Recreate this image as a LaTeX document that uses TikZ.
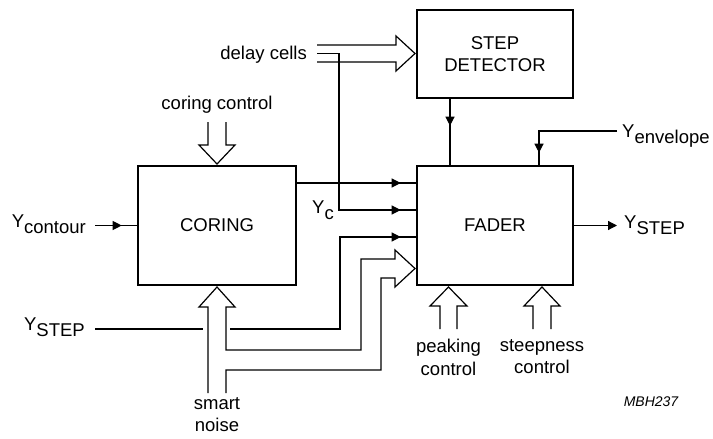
\documentclass[tikz,border=0pt]{standalone}
\usepackage{fontspec}
\setmainfont{Liberation Sans}
\usetikzlibrary{arrows.meta,decorations.markings}
\newcommand\dnsub[1]{\raisebox{-6.5pt}{#1}}
\begin{document}
\begin{tikzpicture}[x=1pt,y=-1pt,
  box/.style={draw, line width=2.6pt, minimum width=156pt, inner sep=0pt, align=center, font=\fontsize{18.5}{22.5}\selectfont},
  thin/.style={line width=1.2pt},
  txt/.style={inner sep=0pt, font=\fontsize{18.5}{22.5}\selectfont},
  tip/.style={-{Triangle[length=9pt,width=9pt]}},
  midarrow/.style={thin, postaction={decorate}, decoration={markings, mark=at position #1 with {\arrow{Triangle[length=9pt,width=9pt]}}}},
  line join=miter
]
\useasboundingbox (0,0) rectangle (713,439);

% blocks
\node[box, minimum width=158pt, minimum height=119pt] (coring) at (217,225.5) {CORING};
\node[box, minimum height=88pt] (step) at (495,54) {STEP\\DETECTOR};
\node[box, minimum height=119pt] (fader) at (495,225.5) {FADER};

% labels
\node[txt, anchor=base east] (ycont) at (86,227) {Y\dnsub{contour}};
\node[txt, anchor=base east] (ystepin) at (85,330) {Y\dnsub{STEP}};
\node[txt, anchor=base west] (ystepout) at (624,228) {Y\dnsub{STEP}};
\node[txt, anchor=base west] (yenv) at (622,137) {Y\dnsub{envelope}};
\node[txt, anchor=base west] (yc) at (312,213) {Y\dnsub{c}};
\node[txt, anchor=base east] (delay) at (307,59) {delay cells};
\node[txt, anchor=base] (corctl) at (217,109) {coring control};
\node[txt, align=center, anchor=north] (smart) at (217,397) {smart\\noise};
\node[txt, align=center, anchor=north] (peak) at (448.5,339) {peaking\\control};
\node[txt, align=center, anchor=north] (steep) at (542,339) {steepness\\control};
\node[inner sep=0pt, anchor=base, font=\fontsize{14}{16}\selectfont\itshape] (mbh) at (651,406) {MBH237};

% coordinates
\coordinate (ycin) at (95,225.5);
\coordinate (tapx) at (339,0);
\coordinate (r1) at (0,183);
\coordinate (r2) at (0,210);
\coordinate (r3) at (0,237);
\coordinate (sx) at (450,0);
\coordinate (envstart) at (617,131);
\coordinate (envx) at (539,131);
\coordinate (outend) at (617,225.5);
\coordinate (ys1) at (95,329);
\coordinate (ys2) at (203,329);
\coordinate (ys3) at (230,329);
\coordinate (ys4) at (340,329);

% single-line connectors
\draw[midarrow=-15pt] (ycin) -- (coring.west);
\draw[midarrow=-15pt] (coring.east |- r1) -- (fader.west |- r1);
\draw[midarrow=-15pt] (317,53.5) -- (tapx |- 0,53.5) -- (tapx |- r2) -- (fader.west |- r2);
\draw[thin] (ys1) -- (ys2);
\draw[midarrow=-15pt] (ys3) -- (ys4) -- (ys4 |- r3) -- (fader.west |- r3);
\draw[midarrow=-39pt] (step.south -| sx) -- (fader.north -| sx);
\draw[midarrow=-12pt] (envstart) -- (envx) -- (fader.north -| envx);
\draw[thin, tip] (fader.east) -- (outend);

% hollow bus arrows
\draw[thin] (317,45) -- (396,45) -- (396,36) -- (415,53.5) -- (396,71) -- (396,62) -- (317,62);
\draw[thin] (208,122) -- (208,145) -- (199,145) -- (217,164) -- (235,145) -- (226,145) -- (226,122);
\draw[thin] (208,393) -- (208,307) -- (199,307) -- (217,287) -- (235,307) -- (226,307)
  -- (226,350) -- (361,350) -- (361,259) -- (395,259) -- (395,250) -- (415,268.5)
  -- (395,287) -- (395,278) -- (381,278) -- (381,370) -- (226,370) -- (226,393);
\draw[thin] (440,329) -- (440,306) -- (430,306) -- (448.5,287) -- (467,306) -- (457,306) -- (457,329);
\draw[thin] (533,329) -- (533,306) -- (524,306) -- (542,287) -- (560,306) -- (551,306) -- (551,329);
\end{tikzpicture}
\end{document}
